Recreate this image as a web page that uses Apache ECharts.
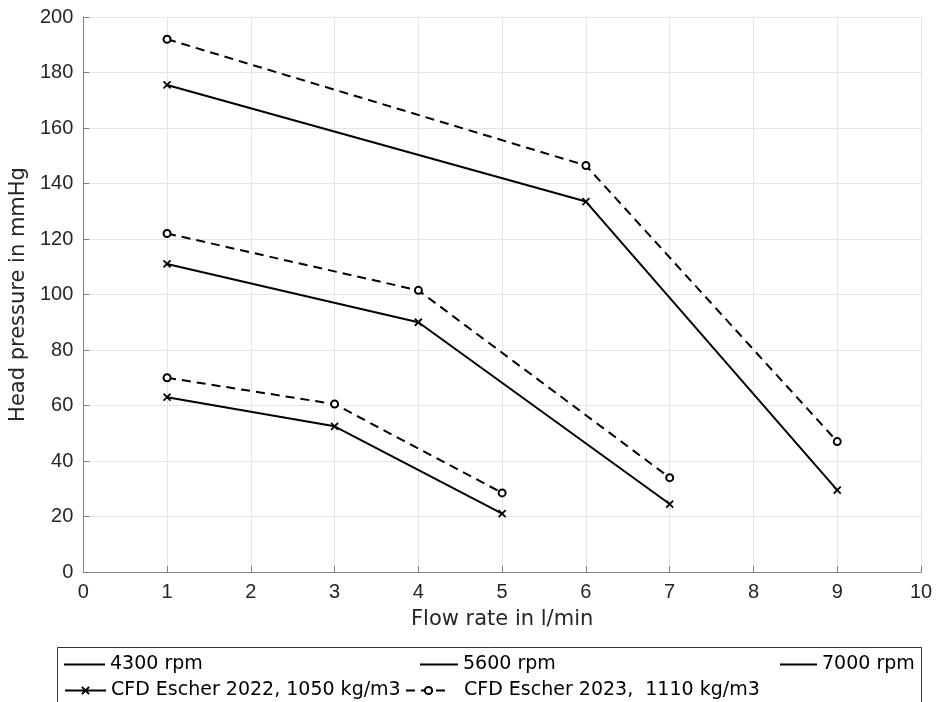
<!DOCTYPE html>
<html>
<head>
<meta charset="utf-8">
<script src="https://cdn.jsdelivr.net/npm/echarts@6/dist/echarts.min.js"></script>
<style>
  html, body { margin: 0; padding: 0; background: #fff; }
  #chart { width: 936px; height: 702px; }
</style>
</head>
<body>
<div id="chart"></div>
<script>
// Pump head curves: measured speed lines against two CFD runs
const speeds = ['4300 rpm', '5600 rpm', '7000 rpm'];

// CFD Escher 2022, 1050 kg/m3  — [flow l/min, head mmHg]
const cfd2022_4300 = [[1, 63], [3, 52.5], [5, 21]];
const cfd2022_5600 = [[1, 111], [4, 90], [7, 24.5]];
const cfd2022_7000 = [[1, 175.5], [6, 133.5], [9, 29.5]];

// CFD Escher 2023, 1110 kg/m3
const cfd2023_4300 = [[1, 70], [3, 60.5], [5, 28.5]];
const cfd2023_5600 = [[1, 122], [4, 101.5], [7, 34]];
const cfd2023_7000 = [[1, 192], [6, 146.5], [9, 47]];

const label2022 = 'CFD Escher 2022, 1050 kg/m3';
const label2023 = 'CFD Escher 2023,  1110 kg/m3';

const xTitle = 'Flow rate in l/min';
const yTitle = 'Head pressure in mmHg';

const TICK_FONT = 'Liberation Sans, Arial, Helvetica, sans-serif';
const TEXT_FONT = 'DejaVu Sans, Verdana, sans-serif';
const INK = '#000';
const crossPath = 'path://M0,0L10,10M10,0L0,10';

function solid(name, data) {
  return {
    name, type: 'line', data,
    symbol: crossPath, symbolSize: 7,
    lineStyle: { color: INK, width: 2, type: 'solid' },
    itemStyle: { color: INK, borderColor: INK, borderWidth: 1.8 },
    emphasis: { disabled: true }, animation: false, z: 3
  };
}
function dashed(name, data) {
  return {
    name, type: 'line', data,
    symbol: 'emptyCircle', symbolSize: 7,
    lineStyle: { color: INK, width: 2, type: [9, 6] },
    itemStyle: { color: INK, borderColor: INK, borderWidth: 2 },
    emphasis: { disabled: true }, animation: false, z: 3
  };
}

const series = [
  solid(speeds[0], cfd2022_4300),
  solid(speeds[1], cfd2022_5600),
  solid(speeds[2], cfd2022_7000),
  dashed(speeds[0] + ' (2023)', cfd2023_4300),
  dashed(speeds[1] + ' (2023)', cfd2023_5600),
  dashed(speeds[2] + ' (2023)', cfd2023_7000),
  // legend-only entries for the two CFD data sets
  solid(label2022, []),
  dashed(label2023, [])
];

const legendText = { fontFamily: TEXT_FONT, fontSize: 19, color: '#000' };
function legendItem(name, left, top, opts) {
  const item = { name };
  if (opts.icon) {
    item.icon = opts.icon;
    item.itemStyle = { color: INK, borderWidth: 0 };
  }
  return {
    data: [item],
    left, top, orient: 'horizontal', itemGap: 0,
    itemWidth: opts.width, itemHeight: opts.height,
    textStyle: Object.assign({}, legendText, opts.pad ? { padding: [0, 0, 0, opts.pad] } : {}),
    selectedMode: false, padding: 0
  };
}

const option = {
  backgroundColor: '#fff',
  animation: false,
  grid: { left: 82, right: 15, top: 17, bottom: 130, containLabel: false },
  xAxis: {
    type: 'value', min: 0, max: 10, interval: 1,
    name: xTitle, nameLocation: 'middle', nameGap: 37,
    nameTextStyle: { fontFamily: TEXT_FONT, fontSize: 21, color: '#262626' },
    axisLine: { show: true, onZero: false, lineStyle: { color: '#808080', width: 1 } },
    axisTick: { show: true, inside: true, length: 6, lineStyle: { color: '#808080' } },
    axisLabel: { fontFamily: TICK_FONT, fontSize: 20, color: '#262626', margin: 10 },
    splitLine: { show: true, lineStyle: { color: '#e5e5e5', width: 1 } }
  },
  yAxis: {
    type: 'value', min: 0, max: 200, interval: 20,
    name: yTitle, nameLocation: 'middle', nameGap: 51, nameRotate: 90,
    nameTextStyle: { fontFamily: TEXT_FONT, fontSize: 21, color: '#262626' },
    axisLine: { show: true, onZero: false, lineStyle: { color: '#808080', width: 1 } },
    axisTick: { show: true, inside: true, length: 6, lineStyle: { color: '#808080' } },
    axisLabel: { fontFamily: TICK_FONT, fontSize: 20, color: '#262626', margin: 10 },
    splitLine: { show: true, lineStyle: { color: '#e5e5e5', width: 1 } }
  },
  legend: [
    legendItem(speeds[0], 64, 655, { icon: 'rect', width: 41, height: 2 }),
    legendItem(speeds[1], 420, 655, { icon: 'rect', width: 38, height: 2 }),
    legendItem(speeds[2], 780, 655, { icon: 'rect', width: 37, height: 2 }),
    legendItem(label2022, 64, 681, { width: 41, height: 9 }),
    legendItem(label2023, 405, 681, { width: 45, height: 9, pad: 8 })
  ],
  graphic: [{
    type: 'rect', left: 57, top: 647,
    shape: { width: 864, height: 70 },
    style: { fill: '#fff', stroke: '#333', lineWidth: 1 },
    z: -1, silent: true
  }],
  series
};

const chart = echarts.init(document.getElementById('chart'), null, { renderer: 'canvas' });
chart.setOption(option);
</script>
</body>
</html>
